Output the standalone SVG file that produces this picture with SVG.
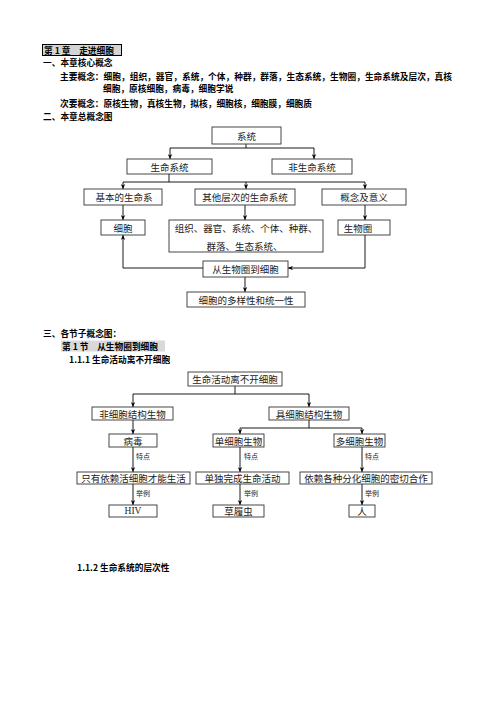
<svg xmlns="http://www.w3.org/2000/svg" width="496" height="702" viewBox="0 0 496 702">
<defs>
<style>
.h{font-family:"Noto Sans CJK SC","Liberation Sans",sans-serif;font-weight:bold;font-size:8.7px;fill:#000;dominant-baseline:central}
.t{font-family:"Noto Sans CJK SC","Liberation Serif",sans-serif;font-size:9.5px;fill:#222;dominant-baseline:central;text-anchor:middle}
.s{font-family:"Noto Sans CJK SC","Liberation Serif",sans-serif;font-size:7px;fill:#222;dominant-baseline:central}
.b{fill:#fff;stroke:#333;stroke-width:0.9}
.c{fill:none;stroke:#000;stroke-width:0.9}
.a{marker-end:url(#ar)}
</style>
<marker id="ar" viewBox="0 0 8 8" refX="8" refY="4" markerWidth="5" markerHeight="5" orient="auto" markerUnits="userSpaceOnUse">
<path d="M0,0.5 L8,4 L0,7.5 L2.5,4 Z" fill="#000"/>
</marker>
</defs>
<rect width="496" height="702" fill="#fff"/>

<g id="header">
<rect x="42.5" y="44.5" width="79" height="11" fill="#d4d4d4" stroke="#000" stroke-width="1"/>
<text class="h" x="44" y="50">第 1 章　走进细胞</text>
<text class="h" x="43" y="62">一、本章核心概念</text>
<text class="h" x="60" y="76" textLength="392" lengthAdjust="spacingAndGlyphs">主要概念：细胞，组织，器官，系统，个体，种群，群落，生态系统，生物圈，生命系统及层次，真核</text>
<text class="h" x="103" y="88.5">细胞，原核细胞，病毒，细胞学说</text>
<text class="h" x="60" y="103">次要概念：原核生物，真核生物，拟核，细胞核，细胞膜，细胞质</text>
<text class="h" x="43" y="116.5">二、本章总概念图</text>
</g>

<g id="connectors">
<path class="c" d="M246,144 V148 M170,148 H314"/>
<path class="c a" d="M170,148 V159"/>
<path class="c a" d="M314,148 V159"/>
<path class="c" d="M169,174 V182 M123,182 H365"/>
<path class="c a" d="M123,182 V189"/>
<path class="c a" d="M246,182 V189"/>
<path class="c a" d="M365,182 V189"/>
<path class="c a" d="M123,205 V220"/>
<path class="c a" d="M245,205 V220"/>
<path class="c a" d="M365,205 V220"/>
<path class="c a" d="M365,235 V268 H288"/>
<path class="c a" d="M203,268 H123 V235"/>
<path class="c a" d="M245,277 V292"/>

<path class="c" d="M235,386 V394 M133,394 H309"/>
<path class="c a" d="M133,394 V407"/>
<path class="c a" d="M309,394 V407"/>
<path class="c a" d="M133,420 V434"/>
<path class="c" d="M309,420 V428 M240,428 H362"/>
<path class="c a" d="M240,428 V434"/>
<path class="c a" d="M362,428 V434"/>
<path class="c a" d="M133,447 V472"/>
<path class="c a" d="M240,447 V472"/>
<path class="c a" d="M362,447 V472"/>
<path class="c a" d="M133,484 V505"/>
<path class="c a" d="M240,484 V505"/>
<path class="c a" d="M362,484 V505"/>
<text class="s" x="136" y="456">特点</text>
<text class="s" x="244" y="456">特点</text>
<text class="s" x="365" y="456">特点</text>
<text class="s" x="136" y="493">举例</text>
<text class="s" x="244" y="493">举例</text>
<text class="s" x="365" y="493">举例</text>
</g>

<g id="n-xitong"><rect class="b" x="212" y="127" width="69" height="17"/><text class="t" x="246.5" y="135.5">系统</text></g>
<g id="n-shengming"><rect class="b" x="127" y="159" width="85" height="15"/><text class="t" x="169.5" y="166.5">生命系统</text></g>
<g id="n-feishengming"><rect class="b" x="272" y="159" width="80" height="15"/><text class="t" x="312" y="166.5">非生命系统</text></g>
<g id="n-jiben"><rect class="b" x="84" y="189" width="78" height="16"/><text class="t" x="124" y="197">基本的生命系</text></g>
<g id="n-qita"><rect class="b" x="195" y="189" width="100" height="16"/><text class="t" x="245" y="197">其他层次的生命系统</text></g>
<g id="n-gainian"><rect class="b" x="322" y="189" width="84" height="16"/><text class="t" x="364" y="197">概念及意义</text></g>
<g id="n-xibao"><rect class="b" x="101" y="220" width="44" height="15"/><text class="t" x="123" y="227.5">细胞</text></g>
<g id="n-zuzhi"><rect class="b" x="169" y="220" width="154" height="32"/><text class="t" x="246" y="227.5">组织、器官、系统、个体、种群、</text><text class="t" x="244.5" y="245.5">群落、生态系统、</text></g>
<g id="n-shengwuquan"><rect class="b" x="338" y="220" width="52" height="15"/><text class="t" x="358" y="227.5">生物圈</text></g>
<g id="n-cong"><rect class="b" x="203" y="261" width="85" height="16"/><text class="t" x="245.5" y="269">从生物圈到细胞</text></g>
<g id="n-duoyang"><rect class="b" x="187" y="292" width="118" height="15"/><text class="t" x="246" y="299.5">细胞的多样性和统一性</text></g>

<g id="section3">
<text class="h" x="43" y="333">三、各节子概念图：</text>
<rect x="61" y="340.5" width="104" height="11" fill="#d9d9d9"/>
<text class="h" x="62" y="346">第 1 节　从生物圈到细胞</text>
<text class="h" x="69" y="359">1.1.1 生命活动离不开细胞</text>
<text class="h" x="77" y="567">1.1.2 生命系统的层次性</text>
</g>

<g id="m-root"><rect class="b" x="188" y="372" width="94" height="14"/><text class="t" x="235" y="379">生命活动离不开细胞</text></g>
<g id="m-fei"><rect class="b" x="92" y="407" width="81" height="13"/><text class="t" x="132.5" y="413.5">非细胞结构生物</text></g>
<g id="m-ju"><rect class="b" x="269" y="407" width="80" height="13"/><text class="t" x="309" y="413.5">具细胞结构生物</text></g>
<g id="m-bingdu"><rect class="b" x="109" y="434" width="48" height="13"/><text class="t" x="133" y="440.5">病毒</text></g>
<g id="m-dan"><rect class="b" x="213" y="434" width="51" height="13"/><text class="t" x="238.5" y="440.5">单细胞生物</text></g>
<g id="m-duo"><rect class="b" x="334" y="434" width="51" height="13"/><text class="t" x="359.5" y="440.5">多细胞生物</text></g>
<g id="m-zhiyou"><rect class="b" x="77" y="472" width="113" height="12"/><text class="t" x="133.5" y="478">只有依赖活细胞才能生活</text></g>
<g id="m-dandu"><rect class="b" x="196" y="472" width="93" height="12"/><text class="t" x="242.5" y="478">单独完成生命活动</text></g>
<g id="m-yilai"><rect class="b" x="300" y="472" width="132" height="12"/><text class="t" x="366" y="478">依赖各种分化细胞的密切合作</text></g>
<g id="m-hiv"><rect class="b" x="109" y="505" width="48" height="12"/><text class="t" x="133" y="511" style="font-family:'Liberation Serif',serif">HIV</text></g>
<g id="m-caolv"><rect class="b" x="213" y="505" width="51" height="12"/><text class="t" x="238.5" y="511">草履虫</text></g>
<g id="m-ren"><rect class="b" x="349" y="505" width="26" height="12"/><text class="t" x="362" y="511">人</text></g>
</svg>
